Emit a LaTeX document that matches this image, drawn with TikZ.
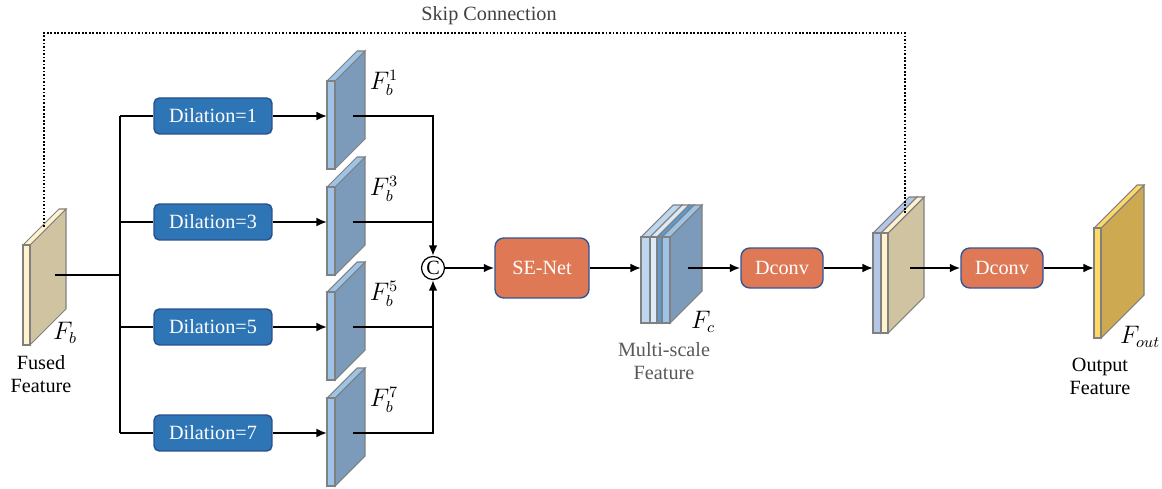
\documentclass[tikz,border=0pt]{standalone}
\usepackage{fontspec}
\setmainfont{Liberation Serif}
\usetikzlibrary{arrows.meta, positioning, calc}
\definecolor{cream}{RGB}{255, 242, 204}
\definecolor{tan}{RGB}{207, 195, 161}
\definecolor{skyA}{RGB}{157, 195, 230}
\definecolor{skyB}{RGB}{189, 215, 238}
\definecolor{skyC}{RGB}{222, 235, 247}
\definecolor{skyD}{RGB}{91, 155, 213}
\definecolor{steel}{RGB}{180, 199, 231}
\definecolor{slate}{RGB}{124, 155, 186}
\definecolor{amber}{RGB}{255, 217, 102}
\definecolor{mustard}{RGB}{205, 170, 82}
\definecolor{dilblue}{RGB}{46, 117, 182}
\definecolor{diledge}{RGB}{40, 80, 140}
\definecolor{coral}{RGB}{223, 121, 85}
\definecolor{coraledge}{RGB}{47, 85, 151}
\definecolor{edgegray}{RGB}{128, 128, 128}

\tikzset{
    dilbox/.style={draw=diledge, line width=0.8pt, fill=dilblue, rounded corners=3pt,
        text=white, minimum width=2.36cm, minimum height=0.72cm, inner sep=0pt},
    opbox/.style={draw=coraledge, line width=0.8pt, fill=coral, rounded corners=5pt,
        text=white, inner sep=0pt},
    flabel/.style={font=\fontsize{13.5}{15}\selectfont, inner sep=1pt},
    conn/.style={line width=1.1pt, black},
    arr/.style={conn, -{Latex[length=6pt, width=5pt]}},
    skipline/.style={line width=1pt, dash pattern=on 1pt off 1pt}
}

% one layer of a feature slab: x, top, thickness, height, depth, front colour, side colour
\newcommand{\slab}[7]{%
    \filldraw[draw=edgegray, line width=0.6pt, fill=#7]
        (#1+#3,#2) -- ++(#5,-#5) -- ++(0,#4) -- ++(-#5,#5) -- cycle;
    \filldraw[draw=edgegray, line width=0.6pt, fill=#6]
        (#1,#2) -- ++(#5,-#5) -- ++(#3,0) -- ++(-#5,#5) -- cycle;
    \filldraw[draw=edgegray, line width=0.6pt, fill=#6]
        (#1,#2) rectangle ++(#3,#4);
}

\begin{document}
\begin{tikzpicture}[x=0.02cm, y=-0.02cm, font=\fontsize{11.5}{13}\selectfont]
    \useasboundingbox (0,0) rectangle (1162,489);

    % input feature
    \slab{23}{245}{7}{100}{36}{cream}{tan}
    \coordinate (fb) at (55,275);
    \coordinate (bus) at (120,275);
    \coordinate (skipa) at (44,227);
    \node[flabel] (lfb) at (65,333) {$F_b$};
    \node[align=center] (fused) at (41,374) {Fused\\Feature};

    % dilated branches
    \foreach \i/\y in {1/116, 3/222, 5/327, 7/433}
    {
        \node[dilbox] (dil\i) at (213,\y) {Dilation=\i};
        \slab{327}{\y-35}{8}{88}{30}{skyA}{slate}
        \coordinate (f\i) at (327,\y);
        \coordinate (f\i out) at (353,\y);
        \node[flabel] (lf\i) at (384,\y-33) {$F_b^{\i}$};
        \draw[conn] (bus |- dil\i) -- (dil\i.west);
        \draw[arr] (dil\i.east) -- (f\i);
    }
    \draw[conn] (fb) -- (bus);
    \draw[conn] (bus |- dil1) -- (bus |- dil7);

    % concatenation
    \node[circle, draw, line width=0.7pt, inner sep=0pt, minimum size=0.46cm] (cat) at (433,268) {C};
    \draw[arr] (f1out) -| (cat.north);
    \draw[arr] (f7out) -| (cat.south);
    \draw[conn] (f3out) -- (cat |- f3out);
    \draw[conn] (f5out) -- (cat |- f5out);

    \node[opbox, minimum width=1.88cm, minimum height=1.2cm] (se) at (542,268) {SE-Net};
    \draw[arr] (cat.east) -- (se.west);

    % multi-scale feature
    \slab{641}{237}{9}{86}{32}{skyB}{slate}
    \slab{650}{237}{7}{86}{32}{skyC}{slate}
    \slab{657}{237}{5}{86}{32}{skyD}{slate}
    \slab{662}{237}{8}{86}{32}{skyA}{slate}
    \coordinate (fc) at (641,268);
    \coordinate (fc out) at (688,268);
    \node[flabel] (lfc) at (703,322) {$F_c$};
    \node[align=center, text=black!65] (multi) at (664,361) {Multi-scale\\Feature};
    \draw[arr] (se.east) -- (fc);

    \node[opbox, minimum width=1.64cm, minimum height=0.8cm] (dc1) at (782,268) {Dconv};
    \draw[arr] (fc out) -- (dc1.west);

    % merged feature
    \slab{873}{233}{8}{100}{36}{steel}{tan}
    \slab{881}{233}{7}{100}{36}{cream}{tan}
    \coordinate (fm) at (873,268);
    \coordinate (fm out) at (910,268);
    \coordinate (skipb) at (905,213);
    \draw[arr] (dc1.east) -- (fm);

    \node[opbox, minimum width=1.64cm, minimum height=0.8cm] (dc2) at (1002,268) {Dconv};
    \draw[arr] (fm out) -- (dc2.west);

    % output feature
    \slab{1094}{228}{7}{110}{43}{amber}{mustard}
    \coordinate (fo) at (1094,268);
    \node[flabel] (lfo) at (1140,337) {$F_{out}$};
    \node[align=center] (outlbl) at (1100,376) {Output\\Feature};
    \draw[arr] (dc2.east) -- (fo);

    % skip connection
    \draw[skipline] (skipa) -- ++(0,-194) -| (skipb);
    \node[text=black!75] (skiplbl) at (489,16) {Skip Connection};
\end{tikzpicture}
\end{document}
